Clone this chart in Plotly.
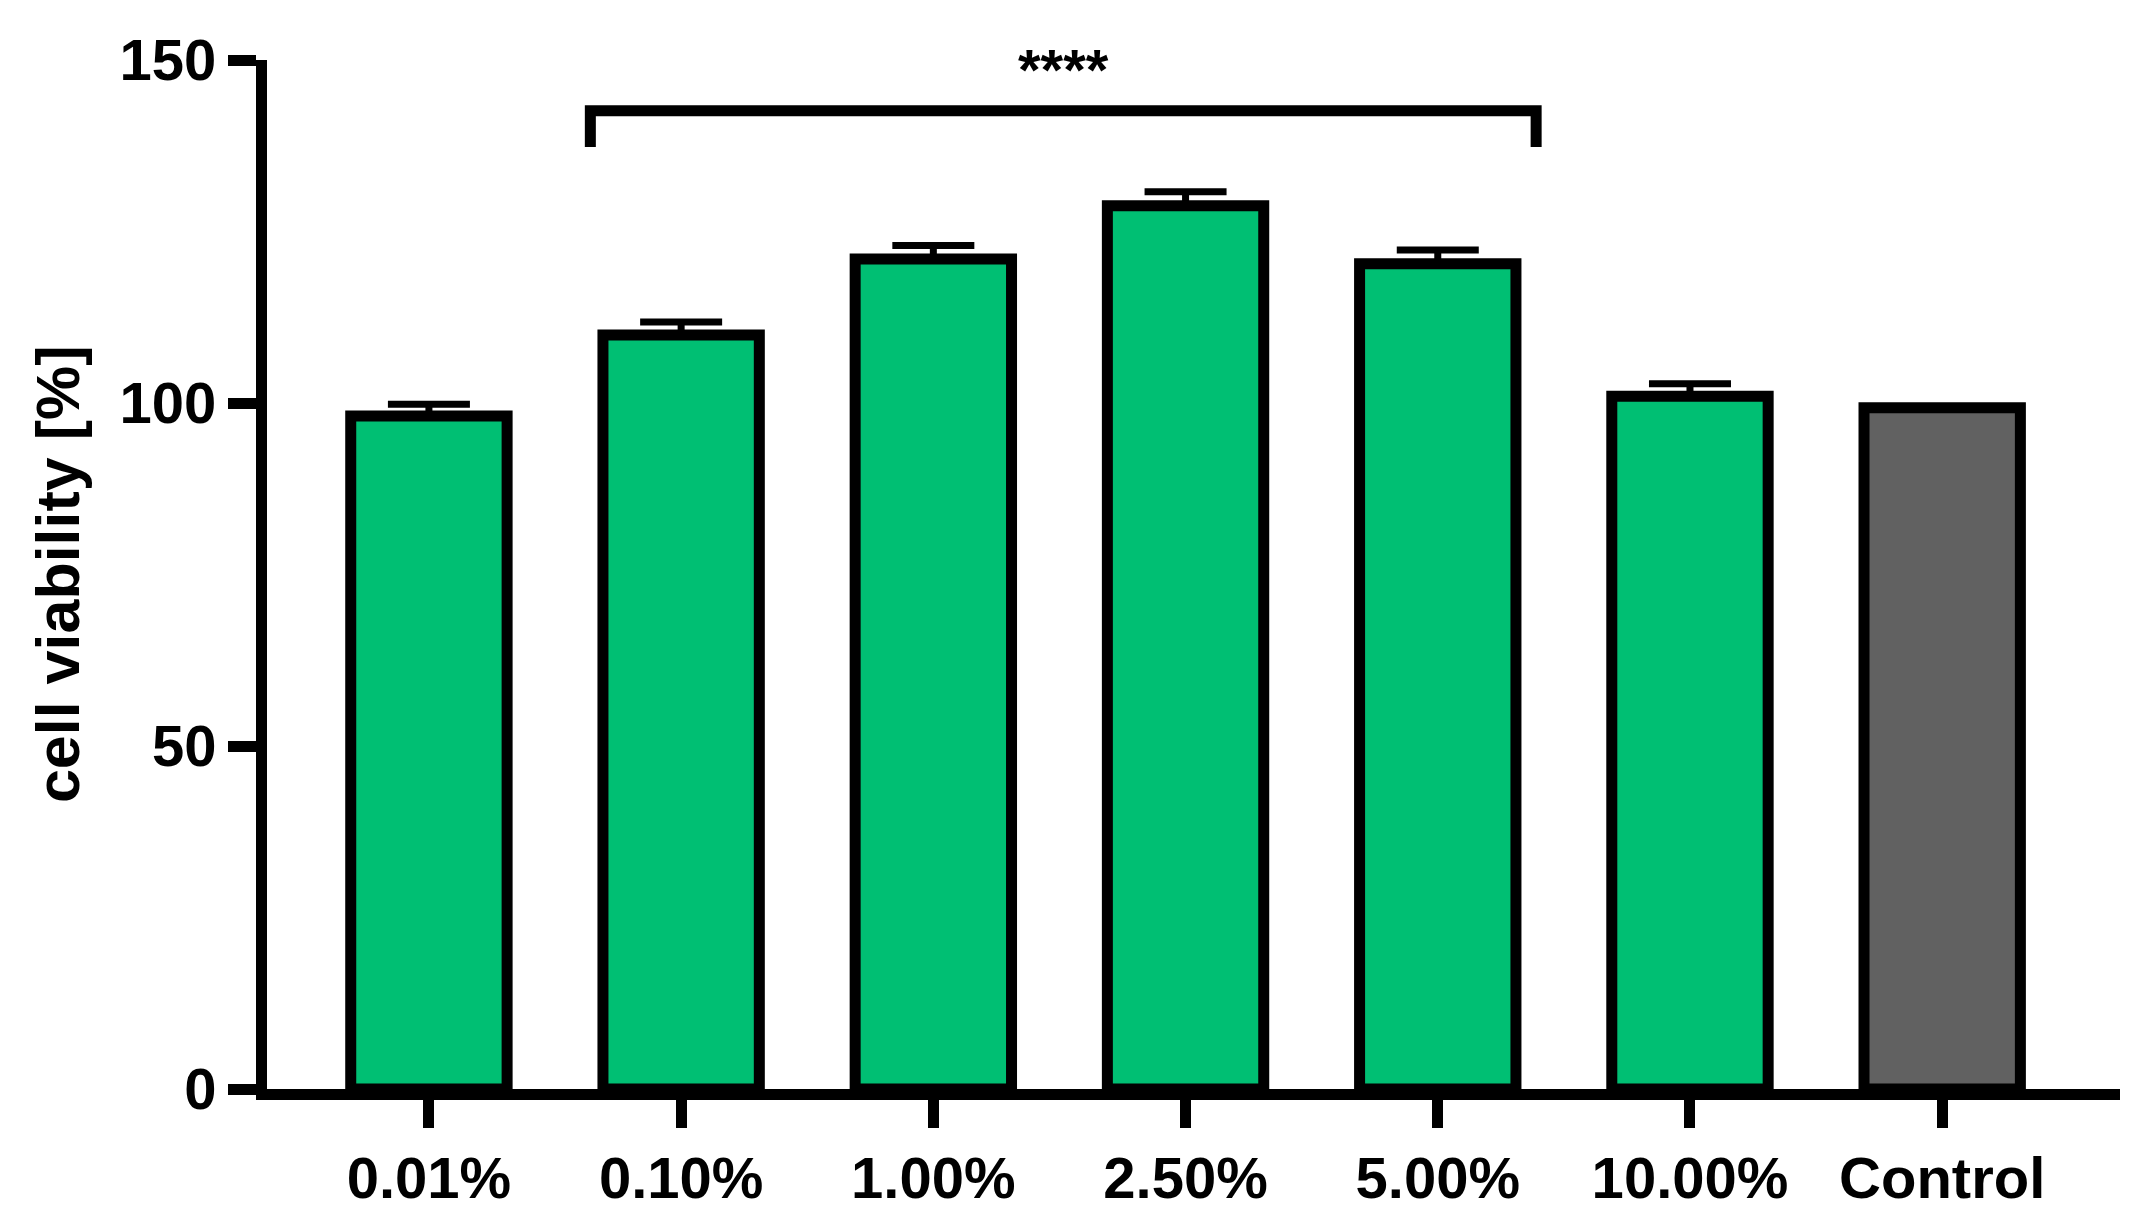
import plotly.graph_objects as go

# data
categories = ["0.01%", "0.10%", "1.00%", "2.50%", "5.00%", "10.00%", "Control"]
viability = [98.1, 109.9, 121.0, 128.75, 120.3, 101.0, 99.3]
errors = [1.7, 1.9, 1.95, 2.05, 2.0, 1.8, None]
y_ticks = [0, 50, 100, 150]
sig_label = "****"

green = "#00BF73"
gray = "#616161"
colors = [gray if c == "Control" else green for c in categories]

font_family = "Liberation Sans, Arial, sans-serif"

fig = go.Figure()

# only the upper half of the error bar shows above each bar
fig.add_trace(go.Bar(
    x=list(range(len(categories))),
    y=viability,
    width=0.62,
    marker=dict(color=colors, line=dict(color="black", width=11)),
    error_y=dict(type="data", symmetric=False, array=errors,
                 arrayminus=[0 if e is not None else None for e in errors],
                 visible=True, color="black", thickness=7, width=41),
    showlegend=False,
))

# significance bracket from 0.10% to 5.00%
br_x0 = 0.64
br_x1 = 4.39
br_top = 142.6
br_foot = 137.3
fig.add_shape(
    type="path",
    path=f"M {br_x0},{br_foot} L {br_x0},{br_top} L {br_x1},{br_top} L {br_x1},{br_foot}",
    line=dict(color="black", width=11),
    layer="above",
)
fig.add_annotation(
    x=(br_x0 + br_x1) / 2, xref="x", y=0.991, yref="paper",
    text=sig_label, showarrow=False,
    font=dict(size=58, color="black", family=font_family, weight="bold"),
    yanchor="middle",
)

# y axis title
fig.add_annotation(
    xref="paper", yref="paper", x=-0.113, y=0.5,
    text="cell viability [%]", textangle=-90, showarrow=False,
    font=dict(size=61, color="black", family=font_family, weight="bold"),
    xanchor="center", yanchor="middle",
)

fig.update_layout(
    width=2133, height=1218,
    margin=dict(l=259, r=21, t=52, b=137),
    plot_bgcolor="white", paper_bgcolor="white",
    font=dict(family=font_family, color="black"),
    xaxis=dict(
        range=[-0.642, 6.705],
        tickmode="array", tickvals=list(range(len(categories))), ticktext=categories,
        showline=True, linecolor="black", linewidth=11,
        ticks="outside", ticklen=28, tickwidth=11, tickcolor="black",
        tickfont=dict(size=58, color="black", family=font_family, weight="bold"),
        showgrid=False, zeroline=False,
    ),
    yaxis=dict(
        range=[0, 150],
        tickmode="array", tickvals=y_ticks,
        showline=True, linecolor="black", linewidth=11,
        ticks="outside", ticklen=28, tickwidth=11, tickcolor="black",
        tickfont=dict(size=58, color="black", family=font_family, weight="bold"),
        showgrid=False, zeroline=False,
    ),
)

fig.write_html("out.html")
